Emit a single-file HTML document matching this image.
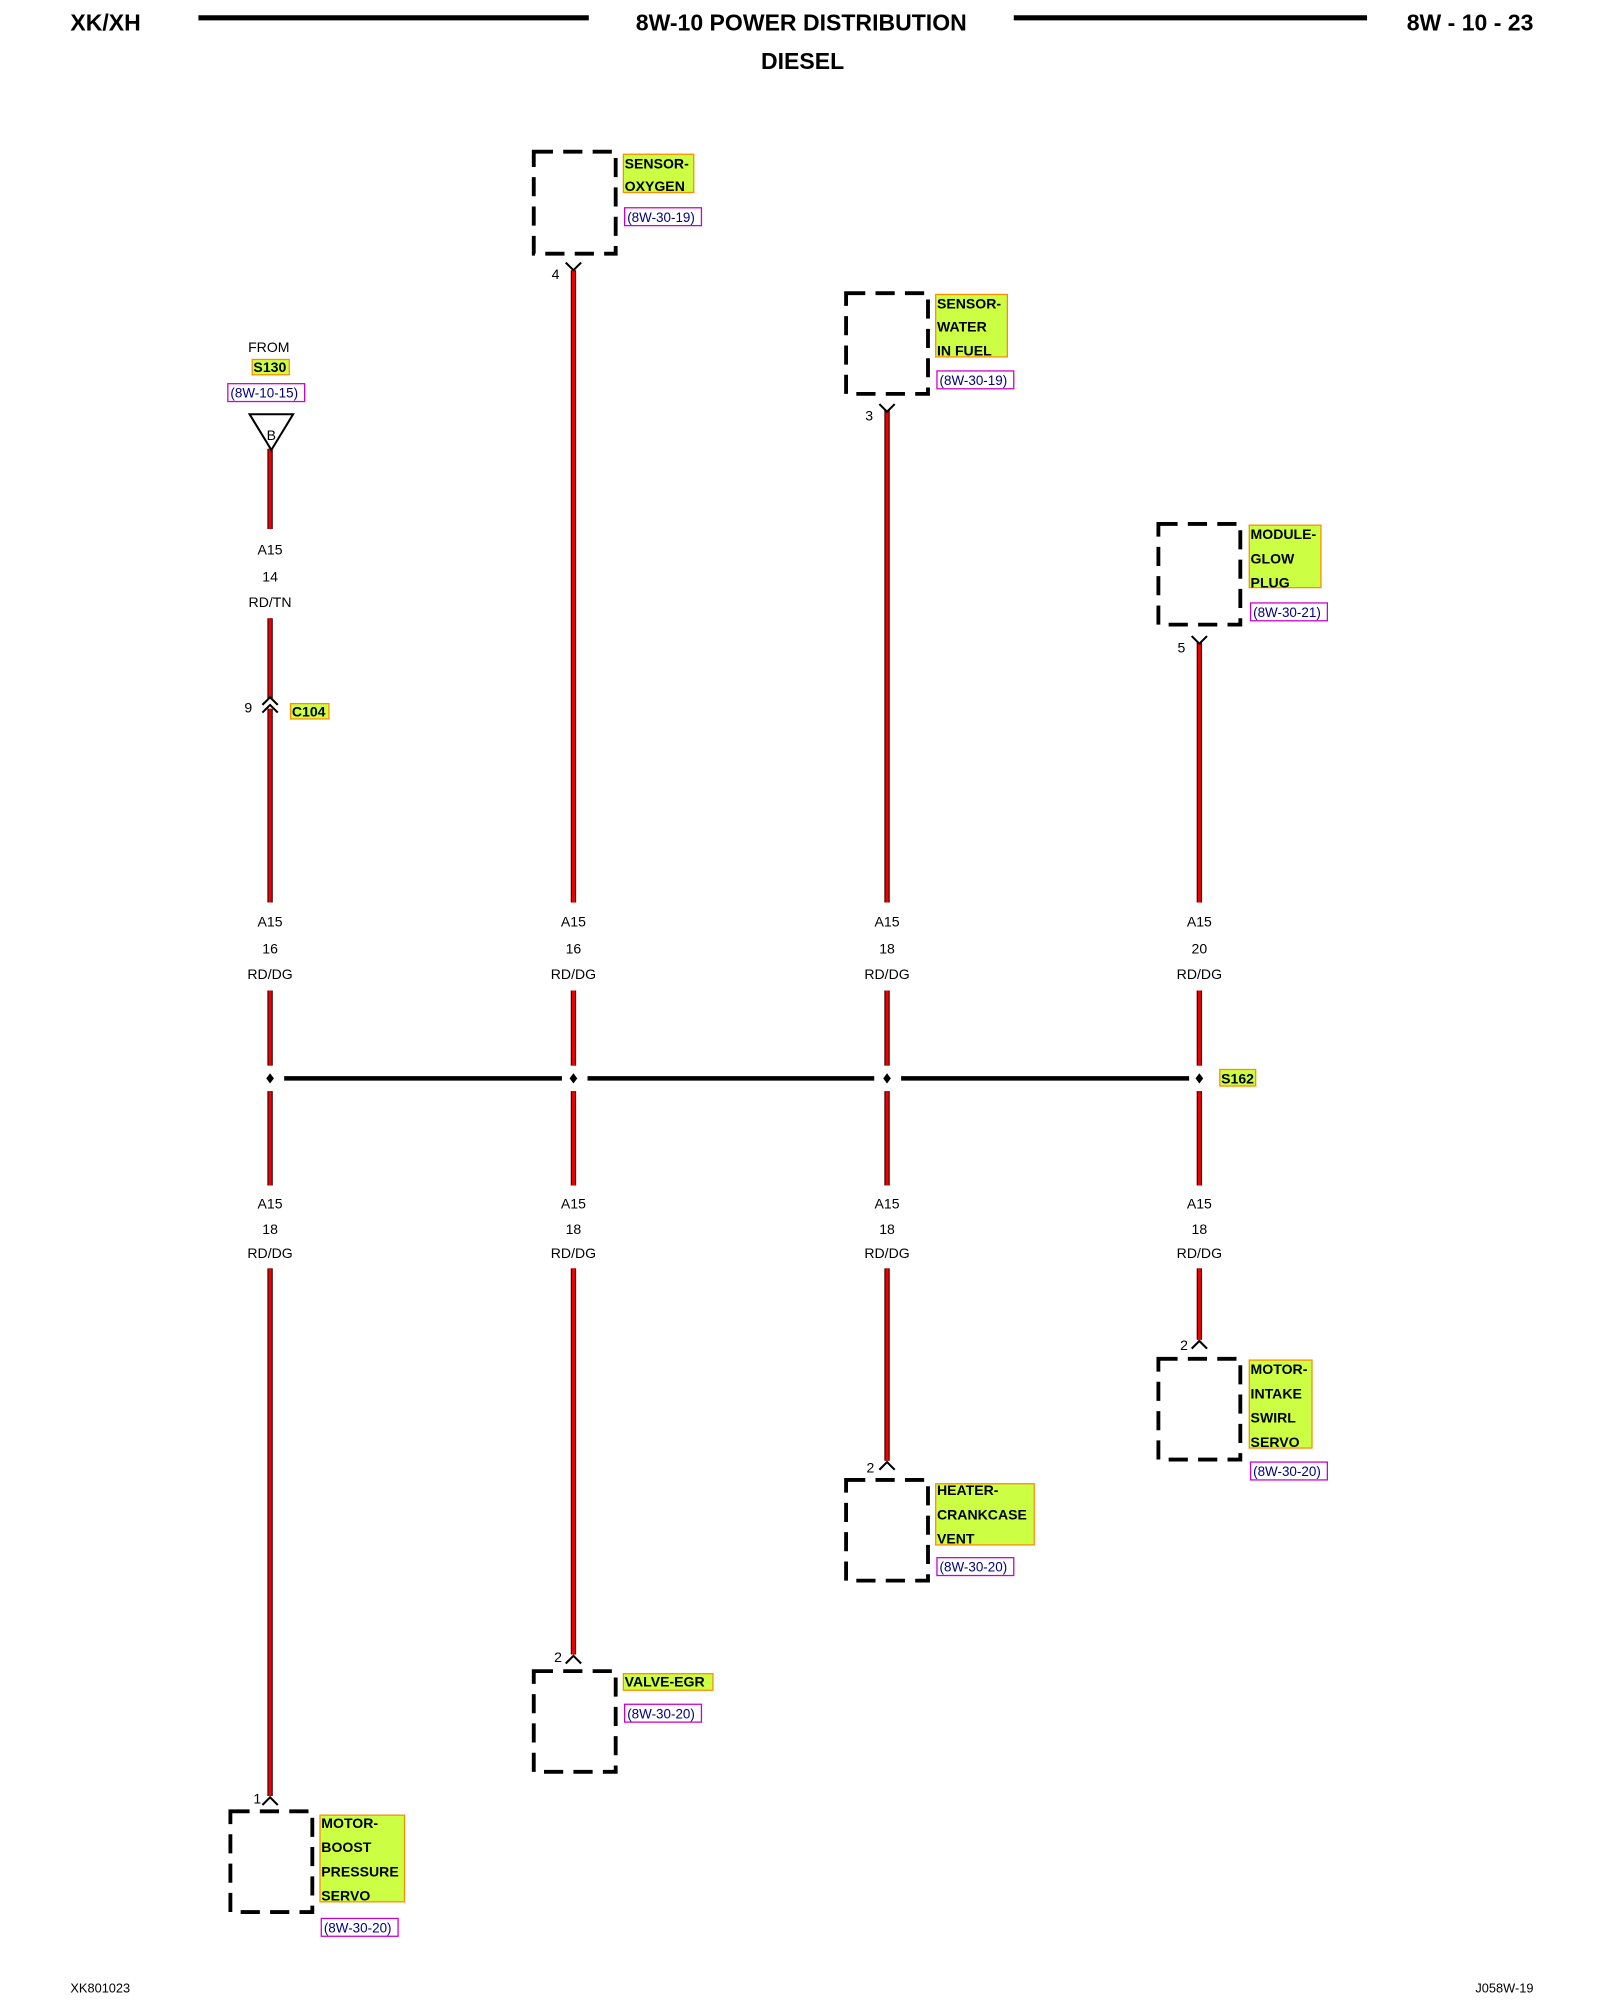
<!DOCTYPE html>
<html><head><meta charset="utf-8"><style>
html,body{margin:0;padding:0;background:#fff;width:1600px;height:2000px;overflow:hidden}
svg{display:block}
text{font-family:"Liberation Sans",Arial,sans-serif}
.h{font-weight:bold;font-size:18px}
.w{font-size:11px;text-anchor:middle}
.c{font-size:11px;font-weight:bold}
.r{font-size:10.5px;fill:#000080}
.bx{fill:none;stroke:#000;stroke-width:3;stroke-dasharray:15 8}
.lb{fill:#ccff44;stroke:#ff8c00;stroke-width:1}
.rf{fill:#fff;stroke:#cc00cc;stroke-width:1}
.wb{stroke:#300;stroke-width:4.2}
.wr{stroke:#e00;stroke-width:2.4}
.cn{fill:none;stroke:#000;stroke-width:1.6}
</style></head><body>
<svg width="1600" height="2000" viewBox="0 0 1250 1569" preserveAspectRatio="none" xmlns="http://www.w3.org/2000/svg">
<!-- header -->
<text class="h" x="55" y="24">XK/XH</text>
<line x1="155" y1="14" x2="460" y2="14" stroke="#000" stroke-width="4"/>
<text class="h" x="626" y="24" text-anchor="middle">8W-10 POWER DISTRIBUTION</text>
<text class="h" x="627" y="54" text-anchor="middle">DIESEL</text>
<line x1="792" y1="14" x2="1068" y2="14" stroke="#000" stroke-width="4"/>
<text class="h" x="1198" y="24" text-anchor="end">8W - 10 - 23</text>

<!-- wires -->
<g>
<line class="wb" x1="211" y1="352" x2="211" y2="415"/><line class="wr" x1="211" y1="352" x2="211" y2="415"/>
<line class="wb" x1="211" y1="485" x2="211" y2="548"/><line class="wr" x1="211" y1="485" x2="211" y2="548"/>
<line class="wb" x1="211" y1="556" x2="211" y2="708"/><line class="wr" x1="211" y1="556" x2="211" y2="708"/>
<line class="wb" x1="448" y1="212" x2="448" y2="708"/><line class="wr" x1="448" y1="212" x2="448" y2="708"/>
<line class="wb" x1="693" y1="322" x2="693" y2="708"/><line class="wr" x1="693" y1="322" x2="693" y2="708"/>
<line class="wb" x1="937" y1="504" x2="937" y2="708"/><line class="wr" x1="937" y1="504" x2="937" y2="708"/>
</g>
<g>
<line class="wb" x1="211" y1="777" x2="211" y2="836"/><line class="wr" x1="211" y1="777" x2="211" y2="836"/>
<line class="wb" x1="448" y1="777" x2="448" y2="836"/><line class="wr" x1="448" y1="777" x2="448" y2="836"/>
<line class="wb" x1="693" y1="777" x2="693" y2="836"/><line class="wr" x1="693" y1="777" x2="693" y2="836"/>
<line class="wb" x1="937" y1="777" x2="937" y2="836"/><line class="wr" x1="937" y1="777" x2="937" y2="836"/>
<line class="wb" x1="211" y1="856" x2="211" y2="930"/><line class="wr" x1="211" y1="856" x2="211" y2="930"/>
<line class="wb" x1="448" y1="856" x2="448" y2="930"/><line class="wr" x1="448" y1="856" x2="448" y2="930"/>
<line class="wb" x1="693" y1="856" x2="693" y2="930"/><line class="wr" x1="693" y1="856" x2="693" y2="930"/>
<line class="wb" x1="937" y1="856" x2="937" y2="930"/><line class="wr" x1="937" y1="856" x2="937" y2="930"/>
<line class="wb" x1="211" y1="995" x2="211" y2="1409"/><line class="wr" x1="211" y1="995" x2="211" y2="1409"/>
<line class="wb" x1="448" y1="995" x2="448" y2="1298"/><line class="wr" x1="448" y1="995" x2="448" y2="1298"/>
<line class="wb" x1="693" y1="995" x2="693" y2="1146"/><line class="wr" x1="693" y1="995" x2="693" y2="1146"/>
<line class="wb" x1="937" y1="995" x2="937" y2="1051"/><line class="wr" x1="937" y1="995" x2="937" y2="1051"/>
</g>

<!-- splice bus -->
<g stroke="#000" stroke-width="3.5">
<line x1="222" y1="846" x2="439" y2="846"/>
<line x1="459" y1="846" x2="683" y2="846"/>
<line x1="704" y1="846" x2="929" y2="846"/>
</g>
<g fill="#000">
<polygon points="211,842 214,846 211,850 208,846"/>
<polygon points="448,842 451,846 448,850 445,846"/>
<polygon points="693,842 696,846 693,850 690,846"/>
<polygon points="937,842 940,846 937,850 934,846"/>
</g>
<rect class="lb" x="953" y="839" width="28" height="13"/>
<text class="c" x="954" y="850">S162</text>

<!-- wire labels -->
<g class="w">
<text x="211" y="435">A15</text><text x="211" y="456">14</text><text x="211" y="476">RD/TN</text>
<text x="211" y="727">A15</text><text x="211" y="748">16</text><text x="211" y="768">RD/DG</text>
<text x="448" y="727">A15</text><text x="448" y="748">16</text><text x="448" y="768">RD/DG</text>
<text x="693" y="727">A15</text><text x="693" y="748">18</text><text x="693" y="768">RD/DG</text>
<text x="937" y="727">A15</text><text x="937" y="748">20</text><text x="937" y="768">RD/DG</text>
<text x="211" y="948">A15</text><text x="211" y="968">18</text><text x="211" y="987">RD/DG</text>
<text x="448" y="948">A15</text><text x="448" y="968">18</text><text x="448" y="987">RD/DG</text>
<text x="693" y="948">A15</text><text x="693" y="968">18</text><text x="693" y="987">RD/DG</text>
<text x="937" y="948">A15</text><text x="937" y="968">18</text><text x="937" y="987">RD/DG</text>
</g>

<!-- FROM S130 -->
<text class="w" x="210" y="276">FROM</text>
<rect class="lb" x="197" y="282" width="29" height="12"/>
<text class="c" x="198" y="292">S130</text>
<rect class="rf" x="178" y="301" width="60" height="14"/>
<text class="r" x="180" y="312">(8W-10-15)</text>
<polygon points="195,325 229,325 212,353" fill="#fff" stroke="#000" stroke-width="1.6"/>
<text class="w" x="212" y="345">B</text>

<!-- C104 -->
<polyline class="cn" points="205,553 211,547 217,553"/>
<polyline class="cn" points="205,559 211,553 217,559"/>
<text class="w" x="194" y="559">9</text>
<rect class="lb" x="227" y="552" width="30" height="12"/>
<text class="c" x="228" y="562">C104</text>

<!-- top connectors -->
<polyline class="cn" points="442,206 448,212 454,206"/>
<text class="w" x="434" y="219">4</text>
<polyline class="cn" points="687,317 693,323 699,317"/>
<text class="w" x="679" y="330">3</text>
<polyline class="cn" points="931,499 937,505 943,499"/>
<text class="w" x="923" y="512">5</text>
<!-- bottom connectors -->
<polyline class="cn" points="931,1058 937,1052 943,1058"/>
<text class="w" x="925" y="1059">2</text>
<polyline class="cn" points="687,1153 693,1147 699,1153"/>
<text class="w" x="680" y="1155">2</text>
<polyline class="cn" points="442,1305 448,1299 454,1305"/>
<text class="w" x="436" y="1304">2</text>
<polyline class="cn" points="205,1416 211,1410 217,1416"/>
<text class="w" x="201" y="1415">1</text>

<!-- SENSOR-OXYGEN -->
<rect class="bx" x="417" y="119" width="64" height="80"/>
<rect class="lb" x="487" y="121" width="55" height="30"/>
<text class="c" x="488" y="132">SENSOR-</text><text class="c" x="488" y="150">OXYGEN</text>
<rect class="rf" x="488" y="163" width="60" height="14"/>
<text class="r" x="490" y="174">(8W-30-19)</text>

<!-- SENSOR-WATER IN FUEL -->
<rect class="bx" x="661" y="230" width="64" height="79"/>
<rect class="lb" x="731" y="231" width="56" height="49"/>
<text class="c" x="732" y="242">SENSOR-</text><text class="c" x="732" y="260">WATER</text><text class="c" x="732" y="279">IN FUEL</text>
<rect class="rf" x="732" y="291" width="60" height="14"/>
<text class="r" x="734" y="302">(8W-30-19)</text>

<!-- MODULE-GLOW PLUG -->
<rect class="bx" x="905" y="411" width="64" height="79"/>
<rect class="lb" x="976" y="412" width="56" height="49"/>
<text class="c" x="977" y="423">MODULE-</text><text class="c" x="977" y="442">GLOW</text><text class="c" x="977" y="461">PLUG</text>
<rect class="rf" x="977" y="473" width="60" height="14"/>
<text class="r" x="979" y="484">(8W-30-21)</text>

<!-- MOTOR-INTAKE SWIRL SERVO -->
<rect class="bx" x="905" y="1066" width="64" height="79"/>
<rect class="lb" x="976" y="1067" width="49" height="69"/>
<text class="c" x="977" y="1078">MOTOR-</text><text class="c" x="977" y="1097">INTAKE</text><text class="c" x="977" y="1116">SWIRL</text><text class="c" x="977" y="1135">SERVO</text>
<rect class="rf" x="977" y="1147" width="60" height="14"/>
<text class="r" x="979" y="1158">(8W-30-20)</text>

<!-- HEATER-CRANKCASE VENT -->
<rect class="bx" x="661" y="1161" width="64" height="79"/>
<rect class="lb" x="731" y="1164" width="77" height="48"/>
<text class="c" x="732" y="1173">HEATER-</text><text class="c" x="732" y="1192">CRANKCASE</text><text class="c" x="732" y="1211">VENT</text>
<rect class="rf" x="732" y="1222" width="60" height="14"/>
<text class="r" x="734" y="1233">(8W-30-20)</text>

<!-- VALVE-EGR -->
<rect class="bx" x="417" y="1311" width="64" height="79"/>
<rect class="lb" x="487" y="1313" width="70" height="13"/>
<text class="c" x="488" y="1323">VALVE-EGR</text>
<rect class="rf" x="488" y="1337" width="60" height="14"/>
<text class="r" x="490" y="1348">(8W-30-20)</text>

<!-- MOTOR-BOOST PRESSURE SERVO -->
<rect class="bx" x="180" y="1421" width="64" height="79"/>
<rect class="lb" x="250" y="1424" width="66" height="68"/>
<text class="c" x="251" y="1434">MOTOR-</text><text class="c" x="251" y="1453">BOOST</text><text class="c" x="251" y="1472">PRESSURE</text><text class="c" x="251" y="1491">SERVO</text>
<rect class="rf" x="251" y="1505" width="60" height="14"/>
<text class="r" x="253" y="1516">(8W-30-20)</text>

<!-- footer -->
<text x="55" y="1563" font-size="10">XK801023</text>
<text x="1198" y="1563" font-size="10" text-anchor="end">J058W-19</text>
</svg>
</body></html>
